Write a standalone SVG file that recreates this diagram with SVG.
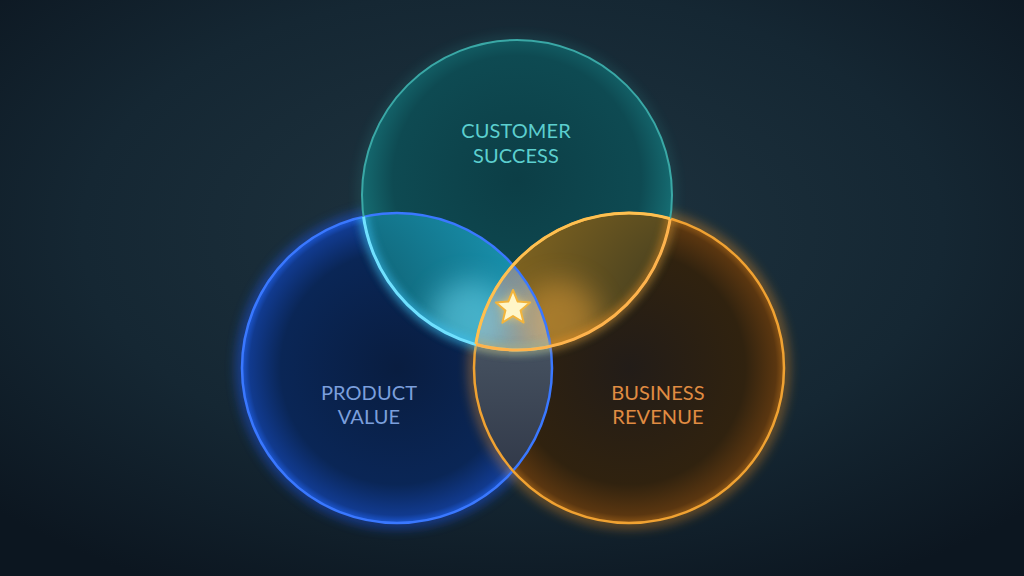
<svg xmlns="http://www.w3.org/2000/svg" width="1024" height="576" viewBox="0 0 1024 576">
<defs>
<style>
.lbl{font-family:Lato,"Open Sans","Liberation Sans",sans-serif;font-size:20px;letter-spacing:0.1px;text-anchor:middle;}
</style>
<radialGradient id="bg" cx="0.5" cy="0.4" r="0.7">
<stop offset="0" stop-color="#1f3440"/>
<stop offset="0.6" stop-color="#152733"/>
<stop offset="1" stop-color="#0c1620"/>
</radialGradient>
<radialGradient id="gTeal" cx="0.5" cy="0.45" r="0.5">
<stop offset="0" stop-color="#0c3e46"/>
<stop offset="0.8" stop-color="#0e4a52"/>
<stop offset="1" stop-color="#156a70"/>
</radialGradient>
<radialGradient id="gBlue" cx="0.5" cy="0.5" r="0.5">
<stop offset="0" stop-color="#091d40"/>
<stop offset="0.75" stop-color="#0a2656"/>
<stop offset="0.95" stop-color="#113a8e"/>
<stop offset="1" stop-color="#1c56d0"/>
</radialGradient>
<radialGradient id="gOrange" cx="0.5" cy="0.5" r="0.5">
<stop offset="0" stop-color="#221c18"/>
<stop offset="0.75" stop-color="#30220f"/>
<stop offset="0.95" stop-color="#5a3610"/>
<stop offset="1" stop-color="#8a5416"/>
</radialGradient>
<radialGradient id="gCenter" cx="0.5" cy="0.5" r="0.5">
<stop offset="0" stop-color="#a8b0b0"/>
<stop offset="1" stop-color="#7e8e94"/>
</radialGradient>
<radialGradient id="gTL" cx="0.3" cy="0.3" r="0.7">
<stop offset="0" stop-color="#0e5868"/>
<stop offset="1" stop-color="#1a9ab8"/>
</radialGradient>
<radialGradient id="gTR" cx="0.7" cy="0.3" r="0.7">
<stop offset="0" stop-color="#3a3820"/>
<stop offset="1" stop-color="#8a6a20"/>
</radialGradient>
<linearGradient id="gLR" x1="0" y1="0" x2="0" y2="1">
<stop offset="0" stop-color="#5a6a78"/>
<stop offset="1" stop-color="#2a3040"/>
</linearGradient>
<filter id="glow" x="-20%" y="-20%" width="140%" height="140%">
<feGaussianBlur stdDeviation="6"/>
</filter>
<filter id="softglow" x="-50%" y="-50%" width="200%" height="200%">
<feGaussianBlur stdDeviation="4"/>
</filter>
<filter id="bigglow" x="-50%" y="-50%" width="200%" height="200%">
<feGaussianBlur stdDeviation="14"/>
</filter>
<clipPath id="cT"><circle cx="517" cy="195" r="155"/></clipPath>
<clipPath id="cL"><circle cx="397" cy="368" r="155"/></clipPath>
<clipPath id="cR"><circle cx="629" cy="368" r="155"/></clipPath>
</defs>
<rect width="1024" height="576" fill="url(#bg)"/>

<g id="node-product-value">
<circle cx="397" cy="368" r="155" fill="none" stroke="#1f5cff" stroke-width="10" opacity="0.55" filter="url(#glow)"/>
<circle cx="397" cy="368" r="155" fill="url(#gBlue)"/>
</g>
<g id="node-business-revenue">
<circle cx="629" cy="368" r="155" fill="none" stroke="#ff9a20" stroke-width="10" opacity="0.45" filter="url(#glow)"/>
<circle cx="629" cy="368" r="155" fill="url(#gOrange)"/>
</g>
<g id="node-customer-success">
<circle cx="517" cy="195" r="155" fill="none" stroke="#30b0b0" stroke-width="6" opacity="0.25" filter="url(#glow)"/>
<circle cx="517" cy="195" r="155" fill="url(#gTeal)"/>
</g>

<g id="overlaps">
<g clip-path="url(#cT)"><circle cx="397" cy="368" r="155" fill="url(#gTL)"/></g>
<g clip-path="url(#cT)"><circle cx="629" cy="368" r="155" fill="url(#gTR)"/></g>
<g clip-path="url(#cL)"><circle cx="629" cy="368" r="155" fill="url(#gLR)"/></g>
<g clip-path="url(#cT)"><g clip-path="url(#cL)"><circle cx="629" cy="368" r="155" fill="url(#gCenter)"/></g></g>
<g clip-path="url(#cT)"><circle cx="470" cy="320" r="40" fill="#80e8ff" opacity="0.45" filter="url(#bigglow)"/><circle cx="560" cy="320" r="40" fill="#ffb040" opacity="0.4" filter="url(#bigglow)"/></g>
</g>

<g id="rings" fill="none">
<circle cx="397" cy="368" r="155" stroke="#3a78ff" stroke-width="2.5"/>
<circle cx="629" cy="368" r="155" stroke="#f0a232" stroke-width="2.5"/>
<circle cx="517" cy="195" r="155" stroke="#3aa8a6" stroke-width="2"/>
<g clip-path="url(#cL)"><circle cx="517" cy="195" r="155" stroke="#8ff0ff" stroke-width="3"/><circle cx="517" cy="195" r="155" stroke="#40c8ff" stroke-width="8" opacity="0.6" filter="url(#softglow)"/></g>
<g clip-path="url(#cR)"><circle cx="517" cy="195" r="155" stroke="#ffc060" stroke-width="3"/><circle cx="517" cy="195" r="155" stroke="#ff9a20" stroke-width="8" opacity="0.5" filter="url(#softglow)"/></g>
<g clip-path="url(#cT)"><circle cx="629" cy="368" r="155" stroke="#ffc050" stroke-width="3"/></g>
</g>

<g id="star">
<polygon points="513,290 517.7,301.5 530.1,302.4 520.6,310.4 523.6,322.6 513,316 502.4,322.6 505.4,310.4 495.9,302.4 508.3,301.5" fill="#ffd060" opacity="0.8" filter="url(#softglow)"/>
<polygon points="513,290 517.7,301.5 530.1,302.4 520.6,310.4 523.6,322.6 513,316 502.4,322.6 505.4,310.4 495.9,302.4 508.3,301.5" fill="#fff6c8" stroke="#f2b43c" stroke-width="2" stroke-linejoin="round"/>
</g>

<g id="labels">
<text class="lbl" x="516" y="138" fill="#5ccfcf">CUSTOMER</text>
<text class="lbl" x="516" y="163" fill="#5ccfcf">SUCCESS</text>
<text class="lbl" x="369" y="400" fill="#7b9fdc">PRODUCT</text>
<text class="lbl" x="369" y="424" fill="#7b9fdc">VALUE</text>
<text class="lbl" x="658" y="400" fill="#e08c42">BUSINESS</text>
<text class="lbl" x="658" y="424" fill="#e08c42">REVENUE</text>
</g>
</svg>
